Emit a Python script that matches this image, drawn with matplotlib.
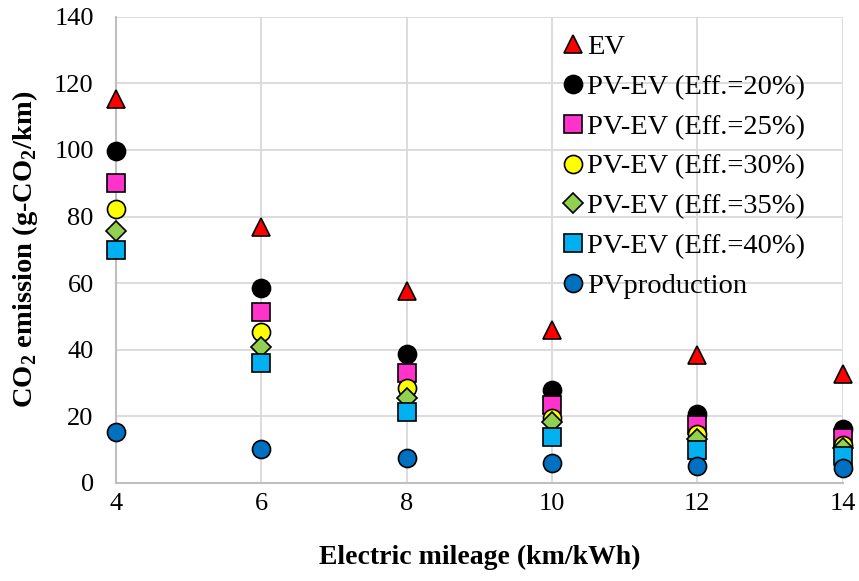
import matplotlib
matplotlib.use("Agg")
import matplotlib.pyplot as plt

plt.rcParams['font.family'] = ['Liberation Serif', 'DejaVu Serif']
plt.rcParams['mathtext.fontset'] = 'custom'
plt.rcParams['mathtext.rm'] = 'Liberation Serif'
plt.rcParams['mathtext.bf'] = 'Liberation Serif:bold'

mileage = [4, 6, 8, 10, 12, 14]
ev = [115.3, 76.8, 57.6, 46.0, 38.3, 32.8]
pvev20 = [99.6, 58.4, 38.8, 27.8, 20.8, 16.2]
pvev25 = [90.2, 51.2, 33.0, 23.3, 17.3, 13.6]
pvev30 = [82.4, 45.2, 28.4, 19.4, 14.6, 11.3]
pvev35 = [75.7, 40.7, 25.6, 18.2, 13.3, 10.5]
pvev40 = [69.8, 35.9, 21.4, 13.8, 9.8, 8.2]
pvprod = [15.3, 10.1, 7.5, 6.0, 5.0, 4.3]

labels = ['EV', 'PV-EV (Eff.=20%)', 'PV-EV (Eff.=25%)', 'PV-EV (Eff.=30%)',
          'PV-EV (Eff.=35%)', 'PV-EV (Eff.=40%)', 'PVproduction']
series = [ev, pvev20, pvev25, pvev30, pvev35, pvev40, pvprod]
colors = ['#FF0000', '#000000', '#FF33CC', '#FFFF00', '#92D050', '#00B0F0', '#0070C0']
markers = ['^', 'o', 's', 'o', 'D', 's', 'o']
sizes = [13.5, 13, 13, 13, 10, 13, 13]

fig = plt.figure(figsize=(8.59, 5.81), dpi=100)
ax = fig.add_axes([0.135, 0.169, 0.846, 0.802])

for vals, lab, c, m, s in zip(series, labels, colors, markers, sizes):
    ax.plot(mileage, vals, linestyle='none', marker=m, markersize=s,
            markerfacecolor=c, markeredgecolor='black', markeredgewidth=1.2,
            label=lab, clip_on=False, zorder=3)

ax.set_xlim(4, 14)
ax.set_ylim(0, 140)
ax.set_xticks(mileage)
ax.set_yticks(range(0, 141, 20))
ax.tick_params(axis='both', length=0, labelsize=19)
ax.tick_params(axis='y', pad=16)
ax.tick_params(axis='x', pad=7)
ax.grid(True, color='#D9D9D9', linewidth=1.3)
ax.set_axisbelow(True)
for sp in ['top', 'right']:
    ax.spines[sp].set_visible(False)
for sp in ['left', 'bottom']:
    ax.spines[sp].set_color('#BFBFBF')
    ax.spines[sp].set_linewidth(1.5)

ax.set_xlabel('Electric mileage (km/kWh)', fontsize=20, fontweight='bold', labelpad=22)
ax.set_ylabel(r'CO$_\mathbf{2}$ emission (g-CO$_\mathbf{2}$/km)', fontsize=20.5,
              fontweight='bold', labelpad=10)

leg = ax.legend(loc='upper right', bbox_to_anchor=(0.972, 1.0), frameon=False,
                fontsize=20.5, handletextpad=0.0, labelspacing=0.49,
                handlelength=1.0, borderaxespad=0.2)

fig.savefig('out.png', dpi=100)
